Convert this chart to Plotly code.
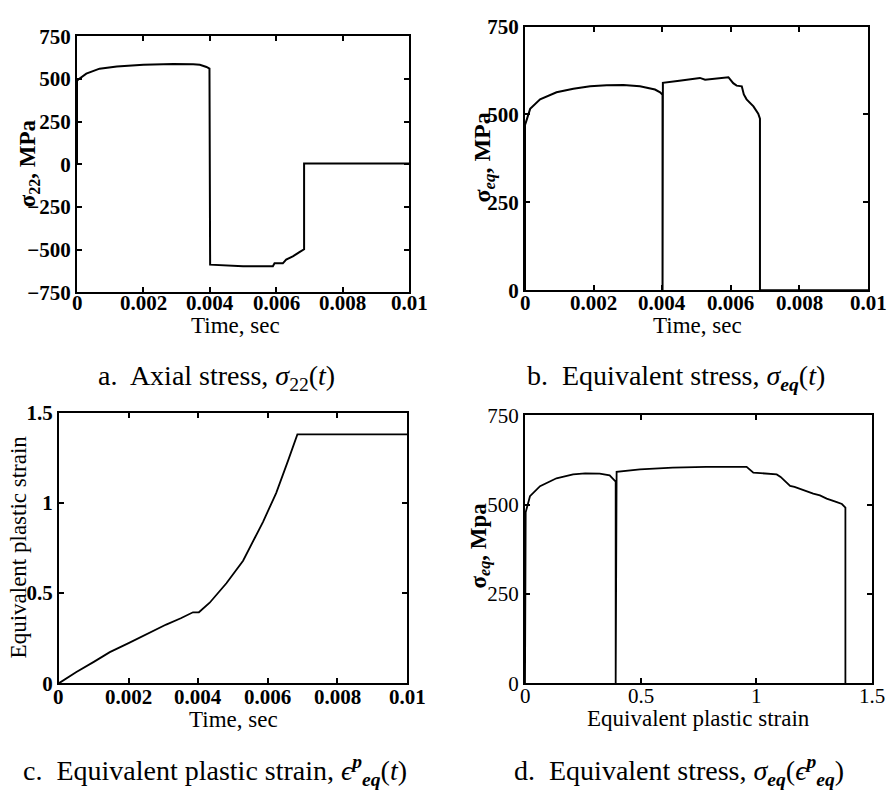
import plotly.graph_objects as go

# ---- a. axial stress sigma_22(t) ----
time_a = [0, 0, 0.00003, 0.00008, 0.00028, 0.00068, 0.0012, 0.002, 0.0029, 0.0035,
          0.0037, 0.0039, 0.00399, 0.00401, 0.0045, 0.005, 0.0055, 0.0059, 0.00595,
          0.0062, 0.0063, 0.0065, 0.0067, 0.0068, 0.00684, 0.00684, 0.01]
sigma22 = [0, 488, 495, 503, 531, 560, 573, 583, 588, 586,
           583, 570, 560, -588, -594, -597, -597, -597, -580,
           -580, -558, -540, -515, -500, -498, 5, 5]

# ---- b. equivalent stress sigma_eq(t) ----
time_b = [0, 0, 0.00003, 0.00015, 0.00044, 0.00092, 0.00141, 0.0019, 0.00238, 0.00287,
          0.00335, 0.00379, 0.00394, 0.00401, 0.00401, 0.00402, 0.0045, 0.0051, 0.00525,
          0.00593, 0.00607, 0.00617, 0.00632, 0.00638, 0.00646, 0.00666, 0.0068, 0.00685,
          0.00685, 0.01]
sigma_eq_b = [0, 470, 479, 516, 543, 563, 573, 580, 583, 584,
              580, 571, 563, 556, 0, 590, 596, 604, 599,
              606, 589, 582, 580, 557, 543, 523, 502, 488,
              0, 0]

# ---- c. equivalent plastic strain eps_eq^p(t) ----
time_c = [0, 0.0005, 0.001, 0.00146, 0.002, 0.00241, 0.00308, 0.0035, 0.00385, 0.00402,
          0.00433, 0.00481, 0.00529, 0.00586, 0.00624, 0.00658, 0.00685, 0.01]
eps_c = [0, 0.062, 0.118, 0.172, 0.222, 0.262, 0.325, 0.36, 0.393, 0.393,
         0.446, 0.554, 0.679, 0.893, 1.054, 1.232, 1.379, 1.379]

# ---- d. equivalent stress vs equivalent plastic strain ----
eps_d = [0, 0, 0.003, 0.0215, 0.065, 0.136, 0.208, 0.26, 0.323, 0.366, 0.389, 0.392,
         0.392, 0.396, 0.497, 0.639, 0.783, 0.958, 0.987, 1.05, 1.088, 1.105, 1.117,
         1.146, 1.165, 1.189, 1.215, 1.246, 1.275, 1.304, 1.345, 1.37, 1.385, 1.385]
sigma_eq_d = [0, 470, 479, 524, 552, 574, 585, 588, 587, 582, 567, 565,
              0, 592, 599, 604, 606, 606, 590, 588, 585, 578, 571,
              553, 550, 544, 538, 531, 526, 517, 508, 502, 492, 0]

time_ticks = [0, 0.002, 0.004, 0.006, 0.008, 0.01]
time_labels = ["0", "0.002", "0.004", "0.006", "0.008", "0.01"]
stress_ticks_a = [-750, -500, -250, 0, 250, 500, 750]
stress_labels_a = ["\u2212750", "\u2212500", "\u2212250", "0", "250", "500", "750"]
stress_ticks = [0, 250, 500, 750]
stress_labels = ["0", "250", "500", "750"]
strain_ticks = [0, 0.5, 1, 1.5]
strain_labels = ["0", "0.5", "1", "1.5"]

W, H = 889, 798
SERIF = "Liberation Serif"


def px_x(x):
    return x / W


def px_y(y):
    return 1 - y / H


def bold(labels):
    return ["<b>%s</b>" % s for s in labels]


fig = go.Figure()
line = dict(color="black", width=2)
fig.add_trace(go.Scatter(x=time_a, y=sigma22, mode="lines", line=line, xaxis="x", yaxis="y"))
fig.add_trace(go.Scatter(x=time_b, y=sigma_eq_b, mode="lines", line=line, xaxis="x2", yaxis="y2"))
fig.add_trace(go.Scatter(x=time_c, y=eps_c, mode="lines", line=dict(color="black", width=1.8),
                         xaxis="x3", yaxis="y3"))
fig.add_trace(go.Scatter(x=eps_d, y=sigma_eq_d, mode="lines", line=dict(color="black", width=1.8),
                         xaxis="x4", yaxis="y4"))


def axis(domain, rng, ticks, labels, anchor, show_labels=True):
    return dict(domain=domain, range=rng, tickvals=ticks, ticktext=labels, anchor=anchor,
                showline=True, linecolor="black", linewidth=2, mirror="ticks",
                ticks="inside", ticklen=5, tickwidth=1.5, tickcolor="black",
                showgrid=False, zeroline=False, fixedrange=True,
                showticklabels=show_labels,
                tickfont=dict(family=SERIF, size=21, color="black"))


fig.update_layout(
    width=W, height=H, margin=dict(l=0, r=0, t=0, b=0),
    paper_bgcolor="white", plot_bgcolor="white", showlegend=False,
    xaxis=axis([px_x(77), px_x(409)], [0, 0.01], time_ticks, time_labels, "y", False),
    yaxis=axis([px_y(289), px_y(25)], [-750, 750], stress_ticks_a, bold(stress_labels_a), "x"),
    xaxis2=axis([px_x(525), px_x(868)], [0, 0.01], time_ticks, time_labels, "y2", False),
    yaxis2=axis([px_y(287), px_y(15)], [0, 750], stress_ticks, bold(stress_labels), "x2"),
    xaxis3=axis([px_x(59), px_x(407)], [0, 0.01], time_ticks, time_labels, "y3", False),
    yaxis3=axis([px_y(692), px_y(413)], [0, 1.5], strain_ticks, bold(strain_labels), "x3"),
    xaxis4=axis([px_x(525), px_x(872)], [0, 1.5], strain_ticks, strain_labels, "y4", False),
    yaxis4=axis([px_y(692), px_y(416)], [0, 750], stress_ticks, stress_labels, "x4"),
)


def note(text, x, y, size, angle=0):
    fig.add_annotation(text=text, x=px_x(x), y=px_y(y), xref="paper", yref="paper",
                       xanchor="center", yanchor="middle", showarrow=False, textangle=angle,
                       font=dict(family=SERIF, size=size, color="black"))


# x tick labels placed on each axis scale, just under the frame
def x_tick_labels(xref, ticks, labels, y, heavy=True):
    for v, s in zip(ticks, labels):
        fig.add_annotation(text=("<b>%s</b>" % s) if heavy else s, x=v, y=px_y(y),
                           xref=xref, yref="paper", xanchor="center", yanchor="middle",
                           showarrow=False, font=dict(family=SERIF, size=21, color="black"))


x_tick_labels("x", time_ticks, time_labels, 300)
x_tick_labels("x2", time_ticks, time_labels, 300)
x_tick_labels("x3", time_ticks, time_labels, 706)
x_tick_labels("x4", strain_ticks, strain_labels, 705, heavy=False)

# axis titles
note("Time, sec", 236, 323, 23)
note("Time, sec", 697, 323, 23)
note("Time, sec", 233, 729, 23)
note("Equivalent plastic strain", 698, 728, 23)
note("<b>\u03c3<sub>22</sub>, MPa</b>", 29, 156, 23, -90)
note("<b>\u03c3<sub><i>eq</i></sub>, MPa</b>", 484, 150, 24, -90)
note("Equivalent plastic strain", 18, 552, 23, -90)
note("<b>\u03c3<sub><i>eq</i></sub>, Mpa</b>", 480, 550, 23, -90)

# panel captions
note("a.\u00a0 Axial stress, <i>\u03c3</i><sub>22</sub>(<i>t</i>)", 216, 377, 28)
note("b.\u00a0 Equivalent stress, <i>\u03c3<sub><b>eq</b></sub></i>(<i>t</i>)", 676, 377, 28)
note("c.\u00a0 Equivalent plastic strain, <i>\u03f5<sup><b>p</b></sup><sub><b>eq</b></sub></i>(<i>t</i>)",
     215, 782, 28)
note("d.\u00a0 Equivalent stress, <i>\u03c3<sub><b>eq</b></sub></i>(<i>\u03f5<sup><b>p</b></sup><sub><b>eq</b></sub></i>)",
     679, 782, 28)

fig.write_html("out.html")
